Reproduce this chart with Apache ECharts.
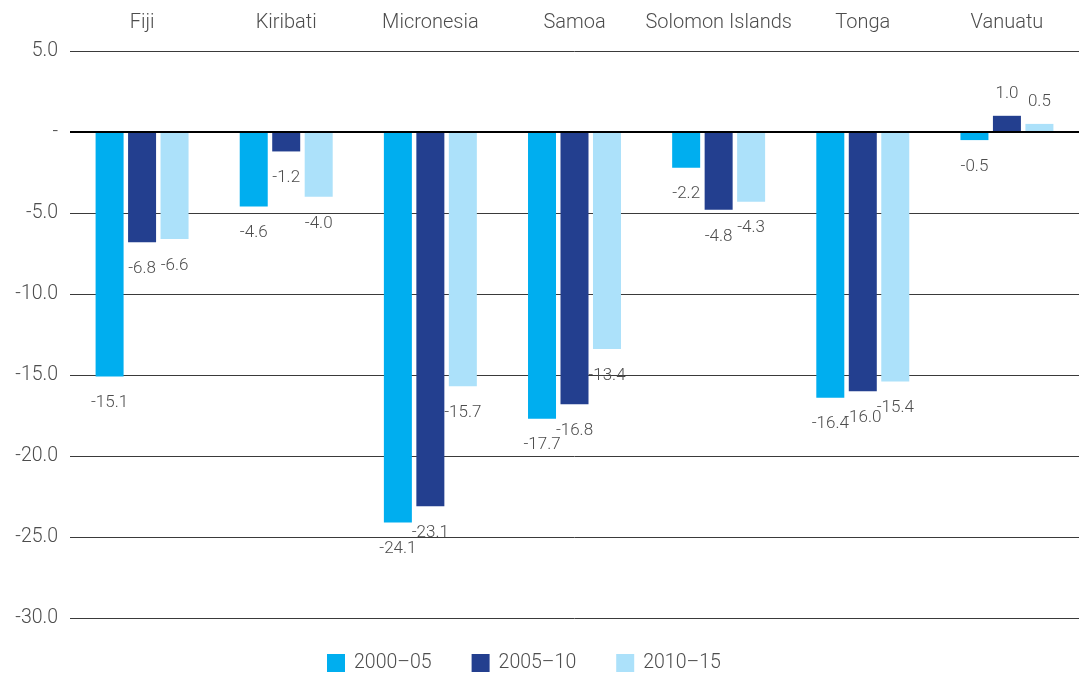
<!DOCTYPE html>
<html>
<head>
<meta charset="utf-8">
<script src="https://cdn.jsdelivr.net/npm/echarts@6/dist/echarts.min.js"></script>
<style>
  html, body { margin: 0; padding: 0; background: #fff; }
  #chart { width: 1079px; height: 678px; }
</style>
</head>
<body>
<div id="chart"></div>
<script>
// data
var countries = ["Fiji", "Kiribati", "Micronesia", "Samoa", "Solomon Islands", "Tonga", "Vanuatu"];
var seriesNames = ["2000\u201305", "2005\u201310", "2010\u201315"];
var period1 = [-15.1, -4.6, -24.1, -17.7, -2.2, -16.4, -0.5];
var period2 = [-6.8, -1.2, -23.1, -16.8, -4.8, -16.0, 1.0];
var period3 = [-6.6, -4.0, -15.7, -13.4, -4.3, -15.4, 0.5];
var colors = ["#00aeef", "#233f8f", "#ace1fa"];

var font = "Roboto, 'Liberation Sans', sans-serif";
var textColor = "#4d4d4d";

function makeSeries(name, values, color, withZero) {
  var s = {
    name: name,
    type: "bar",
    barWidth: 28,
    barGap: "16%",
    itemStyle: { color: color },
    data: values.map(function (v) {
      return {
        value: v,
        label: { position: v < 0 ? "bottom" : "top", distance: v < 0 ? 18 : 14 }
      };
    }),
    label: {
      show: true,
      color: textColor,
      fontSize: 17,
      fontWeight: 300,
      fontFamily: font,
      formatter: function (p) { return p.value.toFixed(1); }
    }
  };
  if (withZero) {
    s.markLine = {
      silent: true,
      symbol: "none",
      label: { show: false },
      lineStyle: { color: "#000", width: 2, type: "solid" },
      data: [{ yAxis: 0 }],
      z: 10
    };
  }
  return s;
}

var myChart = echarts.init(document.getElementById("chart"));
myChart.setOption({
  animation: false,
  textStyle: { fontFamily: font },
  grid: { left: 70, right: 0, top: 51, bottom: 60, containLabel: false },
  legend: {
    bottom: 0,
    left: 322,
    itemWidth: 18,
    itemHeight: 18,
    itemGap: 40,
    icon: "rect",
    textStyle: { color: textColor, fontSize: 19.5, fontWeight: 300, fontFamily: font, padding: [0, 0, 0, 4] },
    data: seriesNames
  },
  xAxis: {
    type: "category",
    position: "top",
    data: countries,
    axisLine: { show: false },
    axisTick: { show: false },
    axisLabel: { color: textColor, fontSize: 20, fontWeight: 300, margin: 18, fontFamily: font, interval: 0 }
  },
  yAxis: {
    type: "value",
    min: -30,
    max: 5,
    interval: 5,
    axisLine: { show: false },
    axisTick: { show: false },
    axisLabel: {
      color: textColor,
      fontSize: 19.5,
      fontWeight: 300,
      margin: 12,
      fontFamily: font,
      formatter: function (v) { return v === 0 ? "-" : v.toFixed(1); }
    },
    splitLine: { lineStyle: { color: "#3a3a3a", width: 1 } }
  },
  series: [
    makeSeries(seriesNames[0], period1, colors[0], true),
    makeSeries(seriesNames[1], period2, colors[1], false),
    makeSeries(seriesNames[2], period3, colors[2], false)
  ]
});
</script>
</body>
</html>
